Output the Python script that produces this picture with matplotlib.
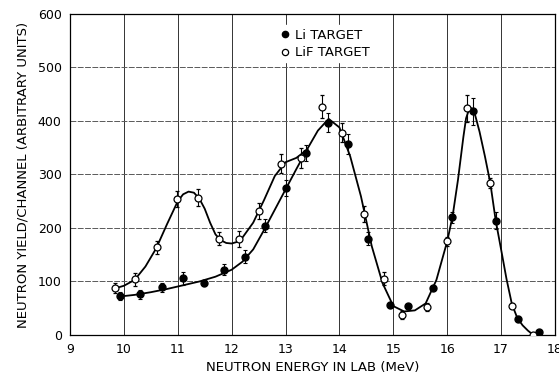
import matplotlib
matplotlib.use("Agg")
import matplotlib.pyplot as plt
from matplotlib.lines import Line2D

LI_E = [9.93, 10.30, 10.70, 11.10, 11.48, 11.86, 12.25, 12.62, 13.01, 13.38, 13.79,
        14.15, 14.53, 14.94, 15.28, 15.73, 16.09, 16.47, 16.90, 17.31, 17.70]
LI_Y = [73, 76, 89, 106, 97, 122, 146, 204, 274, 341, 397,
        357, 180, 56, 55, 87, 220, 418, 214, 30, 5]
LI_ERR = [8, 8, 8, 12, 5, 10, 12, 12, 15, 15, 18,
          18, 12, 5, 0, 0, 10, 25, 15, 5, 0]

LIF_E = [9.83, 10.21, 10.61, 10.99, 11.38, 11.76, 12.14, 12.51, 12.91, 13.29, 13.67,
         14.05, 14.45, 14.83, 15.17, 15.62, 15.99, 16.37, 16.79, 17.21, 17.60]
LIF_Y = [88, 104, 164, 254, 257, 180, 179, 232, 320, 331, 427,
         378, 226, 105, 37, 52, 175, 424, 284, 55, 0]
LIF_ERR = [10, 12, 12, 15, 15, 12, 15, 15, 18, 18, 22,
           18, 15, 12, 8, 8, 8, 25, 10, 5, 0]

# hand-drawn fit curves
LI_CURVE_E = [9.93, 10.2, 10.5, 10.8, 11.1, 11.4, 11.7, 12.0, 12.2, 12.4, 12.6, 12.8,
              13.0, 13.2, 13.4, 13.6, 13.8, 14.0, 14.2, 14.4, 14.6, 14.8, 15.0,
              15.2, 15.4, 15.6, 15.8, 16.0, 16.1, 16.2, 16.3, 16.35, 16.4, 16.45,
              16.5, 16.6, 16.7, 16.8, 16.9, 17.0, 17.1, 17.2, 17.3, 17.4, 17.5, 17.6]
LI_CURVE_Y = [72, 75, 80, 86, 93, 100, 109, 122, 137, 160, 196, 234,
              272, 310, 347, 382, 404, 388, 334, 259, 166, 97, 54,
              44, 46, 59, 103, 175, 222, 290, 370, 405, 420, 424,
              418, 380, 334, 284, 214, 160, 105, 58, 32, 18, 8, 0]

LIF_CURVE_E = [9.83, 10.0, 10.2, 10.4, 10.6, 10.8, 11.0, 11.1, 11.2, 11.3, 11.4, 11.5,
               11.6, 11.7, 11.8, 11.9, 12.0, 12.1, 12.2, 12.4, 12.6, 12.8, 13.0,
               13.2, 13.41]
LIF_CURVE_Y = [87, 92, 103, 128, 162, 207, 250, 263, 268, 266, 255, 236,
               210, 188, 177, 172, 171, 174, 182, 210, 252, 297, 323,
               331, 347]

X_TICKS = list(range(9, 19))
Y_TICKS = list(range(0, 601, 100))

plt.rcParams["font.family"] = "DejaVu Sans"

fig = plt.figure(figsize=(5.59, 3.77), dpi=100)
ax = fig.add_axes([0.1252, 0.1114, 0.8676, 0.8515])

ax.plot(LI_CURVE_E, LI_CURVE_Y, color="black", lw=1.3, zorder=2)
ax.plot(LIF_CURVE_E, LIF_CURVE_Y, color="black", lw=1.3, zorder=2)

ax.errorbar(LI_E, LI_Y, yerr=LI_ERR, fmt="o", color="black", ms=5,
            mfc="black", mec="black", ecolor="black", elinewidth=0.8,
            capsize=1.5, capthick=0.8, zorder=3)
ax.errorbar(LIF_E, LIF_Y, yerr=LIF_ERR, fmt="o", color="black", ms=5,
            mfc="white", mec="black", mew=0.9, ecolor="black", elinewidth=0.8,
            capsize=1.5, capthick=0.8, zorder=3)

ax.set_xlim(9, 18)
ax.set_ylim(0, 600)
ax.set_xticks(X_TICKS)
ax.set_yticks(Y_TICKS)
ax.tick_params(length=0, labelsize=9, pad=6)
ax.xaxis.grid(True, color="0.2", lw=0.7)
ax.yaxis.grid(True, color="0.35", lw=0.7, linestyle=(0, (6, 1.5)))
for s in ax.spines.values():
    s.set_linewidth(0.9)

ax.set_xlabel("NEUTRON ENERGY IN LAB (MeV)", fontsize=9.5, labelpad=3)
ax.set_ylabel("NEUTRON YIELD/CHANNEL (ARBITRARY UNITS)", fontsize=9.5, labelpad=6)

handles = [
    Line2D([], [], ls="none", marker="o", ms=4.5, mfc="black", mec="black"),
    Line2D([], [], ls="none", marker="o", ms=4.5, mfc="white", mec="black", mew=0.9),
]
leg = ax.legend(handles, ["Li TARGET", "LiF TARGET"], loc="upper left",
                bbox_to_anchor=(0.425, 0.965), frameon=True,
                fontsize=9.5, handletextpad=0.4, handlelength=0.8,
                borderpad=0.25, labelspacing=0.35, borderaxespad=0)
leg.get_frame().set_edgecolor("white")
leg.get_frame().set_facecolor("white")
leg.get_frame().set_alpha(1)

fig.savefig("out.png", dpi=100)
